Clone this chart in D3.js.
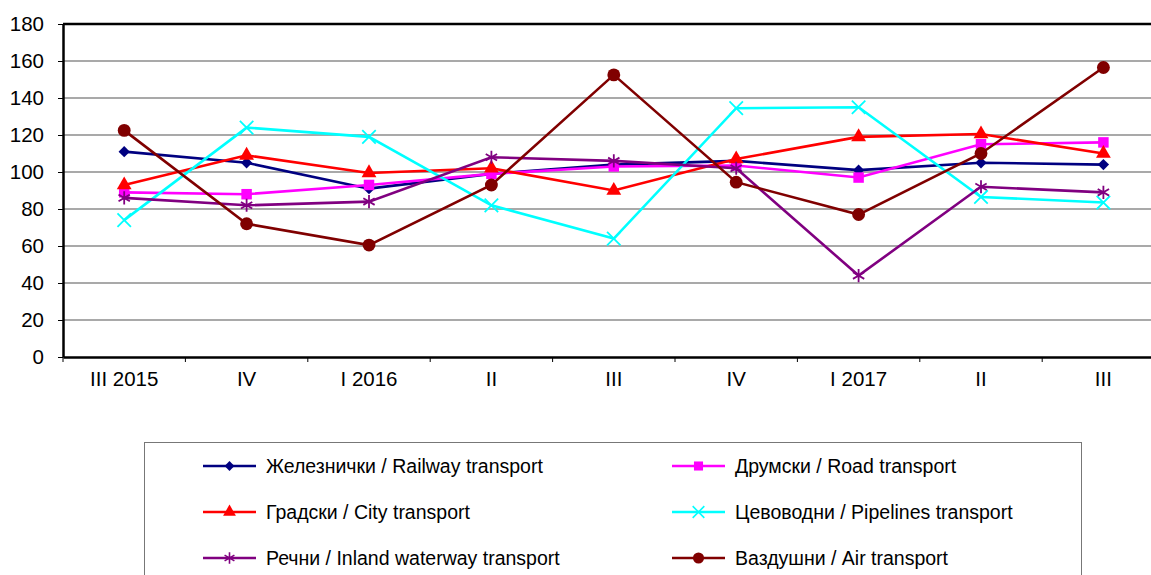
<!DOCTYPE html>
<html>
<head>
<meta charset="utf-8">
<script src="https://cdn.jsdelivr.net/npm/d3@7"></script>
<style>
  html, body { margin: 0; padding: 0; background: #fff; overflow: hidden; }
  svg { display: block; font-family: "Liberation Sans", Arial, sans-serif; }
</style>
</head>
<body>
<div id="chart"></div>
<script>
const categories = ['III 2015', 'IV', 'I 2016', 'II', 'III', 'IV ', 'I  2017', 'II ', 'III '];
const categoryLabels = ['III 2015', 'IV', 'I 2016', 'II', 'III', 'IV', 'I  2017', 'II', 'III'];

const railway   = [111, 105, 91, 99, 104, 106, 101, 105, 104];
const road      = [89, 88, 93, 99, 103, 103.5, 97, 115, 116];
const city      = [93, 109, 99.5, 102, 90, 107, 119, 120.5, 110];
const pipelines = [74, 124, 119, 82, 64, 134.5, 135, 86.5, 83.5];
const inland    = [86, 82, 84, 108, 106, 102, 44, 92, 89];
const air       = [122.5, 72, 60.5, 93, 152.5, 94.5, 77, 110, 156.5];

const yTicks = [0, 20, 40, 60, 80, 100, 120, 140, 160, 180];

const series = [
  { name: 'Железнички / Railway transport', values: railway, color: '#000080', symbol: d3.symbolSquare, rotate: 45, size: 64, stroked: false, col: 0, row: 0 },
  { name: 'Друмски / Road transport', values: road, color: '#ff00ff', symbol: d3.symbolSquare, rotate: 0, size: 110, stroked: false, col: 1, row: 0 },
  { name: 'Градски / City transport', values: city, color: '#ff0000', symbol: d3.symbolTriangle, rotate: 0, size: 95, stroked: false, col: 0, row: 1 },
  { name: 'Цевоводни / Pipelines transport', values: pipelines, color: '#00ffff', symbol: d3.symbolTimes, rotate: 0, size: 120, stroked: true, col: 1, row: 1 },
  { name: 'Речни / Inland waterway transport', values: inland, color: '#800080', symbol: d3.symbolAsterisk, rotate: 0, size: 120, stroked: true, col: 0, row: 2 },
  { name: 'Вздушни / Air transport'.replace('Вз', 'Ваз'), values: air, color: '#800000', symbol: d3.symbolCircle, rotate: 0, size: 130, stroked: false, col: 1, row: 2 }
];

const width = 1151, height = 575;
const margin = { top: 24, left: 63, bottom: 357 };
const bandW = 122.4;

const svg = d3.select('#chart').append('svg')
  .attr('width', width)
  .attr('height', height);

const x = d3.scaleBand()
  .domain(categories)
  .range([margin.left, margin.left + bandW * categories.length]);

const y = d3.scaleLinear()
  .domain([0, 180])
  .range([margin.bottom, margin.top]);

const cx = d => x(d) + x.bandwidth() / 2;
const xRight = x.range()[1];

// gridlines
svg.append('g')
  .selectAll('line')
  .data(yTicks.filter(t => t > 0 && t < 180))
  .join('line')
  .attr('x1', margin.left).attr('x2', xRight)
  .attr('y1', d => y(d)).attr('y2', d => y(d))
  .attr('stroke', '#555').attr('stroke-width', 1.2);

// top border
svg.append('line')
  .attr('x1', margin.left).attr('x2', xRight)
  .attr('y1', y(180)).attr('y2', y(180))
  .attr('stroke', '#000').attr('stroke-width', 2.5);

// y axis
const yAxis = svg.append('g')
  .attr('transform', `translate(${margin.left},0)`)
  .call(d3.axisLeft(y).tickValues(yTicks).tickSize(5).tickPadding(14).tickSizeOuter(0));
yAxis.select('.domain').attr('stroke', '#000').attr('stroke-width', 2.5);
yAxis.selectAll('.tick line').attr('stroke', '#000').attr('stroke-width', 1);
yAxis.selectAll('.tick text')
  .attr('font-size', 20.5).attr('fill', '#000')
  .attr('font-family', '"Liberation Sans", Arial, sans-serif');

// x axis
const xAxis = svg.append('g')
  .attr('transform', `translate(0,${margin.bottom})`)
  .call(d3.axisBottom(x).tickSize(0).tickPadding(10).tickSizeOuter(0)
    .tickFormat((d, i) => categoryLabels[i]));
xAxis.select('.domain').attr('stroke', '#000').attr('stroke-width', 2.5);
xAxis.selectAll('.tick text')
  .attr('font-size', 20.5).attr('fill', '#000')
  .attr('font-family', '"Liberation Sans", Arial, sans-serif')
  .attr('dy', '0.93em');

// x tick marks at band edges
svg.append('g')
  .selectAll('line')
  .data(categories)
  .join('line')
  .attr('x1', d => x(d)).attr('x2', d => x(d))
  .attr('y1', margin.bottom).attr('y2', margin.bottom + 5)
  .attr('stroke', '#000').attr('stroke-width', 1);

// lines and markers
const line = d3.line()
  .x((d, i) => cx(categories[i]))
  .y(d => y(d));

series.forEach(s => {
  const g = svg.append('g');
  g.append('path')
    .datum(s.values)
    .attr('d', line)
    .attr('fill', 'none')
    .attr('stroke', s.color)
    .attr('stroke-width', 2.6);
  g.selectAll('path.marker')
    .data(s.values)
    .join('path')
    .attr('class', 'marker')
    .attr('transform', (d, i) => `translate(${cx(categories[i])},${y(d)}) rotate(${s.rotate})`)
    .attr('d', d3.symbol(s.symbol, s.size)())
    .attr('fill', s.stroked ? 'none' : s.color)
    .attr('stroke', s.stroked ? s.color : 'none')
    .attr('stroke-width', s.stroked ? 1.8 : 0);
});

// legend
const legend = svg.append('g');
legend.append('rect')
  .attr('x', 144.5).attr('y', 442.5)
  .attr('width', 937).attr('height', 160)
  .attr('fill', 'none').attr('stroke', '#777').attr('stroke-width', 1);

const colX = [203, 672];
const rowY = [466, 512, 558];

series.forEach(s => {
  const lx = colX[s.col], ly = rowY[s.row];
  const item = legend.append('g').attr('transform', `translate(${lx},${ly})`);
  item.append('line')
    .attr('x1', 0).attr('x2', 53).attr('y1', 0).attr('y2', 0)
    .attr('stroke', s.color).attr('stroke-width', 2.6);
  item.append('path')
    .attr('transform', `translate(26.5,0) rotate(${s.rotate})`)
    .attr('d', d3.symbol(s.symbol, s.size * 0.75)())
    .attr('fill', s.stroked ? 'none' : s.color)
    .attr('stroke', s.stroked ? s.color : 'none')
    .attr('stroke-width', s.stroked ? 1.6 : 0);
  item.append('text')
    .attr('x', 63).attr('y', 0)
    .attr('dy', '0.35em')
    .attr('font-size', 19.5)
    .attr('fill', '#000')
    .text(s.name);
});
</script>
</body>
</html>
